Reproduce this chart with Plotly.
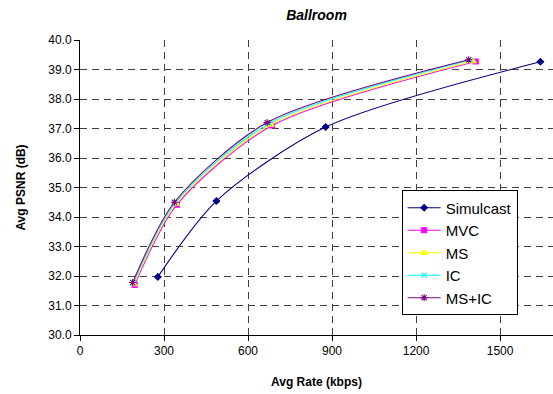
import plotly.graph_objects as go

names = ["Simulcast", "MVC", "MS", "IC", "MS+IC"]
rates = {
    "Simulcast": [278, 487, 877, 1644],
    "MVC": [195, 346, 686, 1413],
    "MS": [192, 343, 681, 1403],
    "IC": [190, 340, 676, 1395],
    "MS+IC": [188, 337, 668, 1388],
}
psnr = {
    "Simulcast": [31.97, 34.54, 37.05, 39.26],
    "MVC": [31.70, 34.42, 37.10, 39.27],
    "MS": [31.72, 34.45, 37.13, 39.28],
    "IC": [31.75, 34.48, 37.17, 39.32],
    "MS+IC": [31.78, 34.50, 37.20, 39.33],
}
colors = {"Simulcast": "#000080", "MVC": "#FF00FF", "MS": "#FFFF00", "IC": "#00FFFF", "MS+IC": "#800080"}
symbols = {"Simulcast": "diamond", "MVC": "square", "MS": "triangle-up", "IC": "x-thin-open", "MS+IC": "asterisk-open"}
msize = {"Simulcast": 5, "MVC": 5, "MS": 6, "IC": 5, "MS+IC": 6}

fig = go.Figure()
for n in names:
    fig.add_trace(go.Scatter(
        x=rates[n], y=psnr[n], name=n, legendgroup=n,
        mode="lines+markers",
        line=dict(color=colors[n], width=1.1, shape="spline", smoothing=0.8),
        marker=dict(symbol=symbols[n], size=msize[n], color=colors[n],
                    line=dict(color=colors[n], width=1.1)),
    ))

grid = dict(showgrid=True, gridcolor="#404040", gridwidth=1, griddash="7px,5px")
fig.update_layout(
    width=553, height=394,
    margin=dict(l=80, r=0, t=40, b=59, autoexpand=False),
    paper_bgcolor="white", plot_bgcolor="white",
    font=dict(family="Liberation Sans, Arial", size=12, color="black"),
    title=dict(text="<b><i>Ballroom</i></b>", x=0.5, xref="paper", y=1 - 15 / 394,
               yanchor="middle", font=dict(size=14)),
    xaxis=dict(range=[0, 1689], tickvals=[0, 300, 600, 900, 1200, 1500],
               showline=True, linecolor="black", linewidth=1,
               ticks="outside", ticklen=5, tickcolor="black", zeroline=False,
               tickfont=dict(size=12), automargin=False,
               title=dict(text="<b>Avg Rate (kbps)</b>", font=dict(size=12), standoff=20),
               **grid),
    yaxis=dict(range=[30, 40], dtick=1, tickformat=".1f",
               showline=True, linecolor="black", linewidth=1,
               ticks="outside", ticklen=5, tickcolor="black", zeroline=False,
               tickfont=dict(size=12), automargin=False,
               title=dict(text="<b>Avg PSNR (dB)</b>", font=dict(size=12), standoff=20),
               **grid),
    legend=dict(x=0.68, y=0.49, xanchor="left", yanchor="top",
                bgcolor="white", bordercolor="black", borderwidth=1,
                font=dict(size=15), traceorder="grouped", tracegroupgap=0,
                itemwidth=33),
    showlegend=True,
)
fig.write_html("out.html", config={"displayModeBar": False},
               post_script="document.body.style.margin='0';")
